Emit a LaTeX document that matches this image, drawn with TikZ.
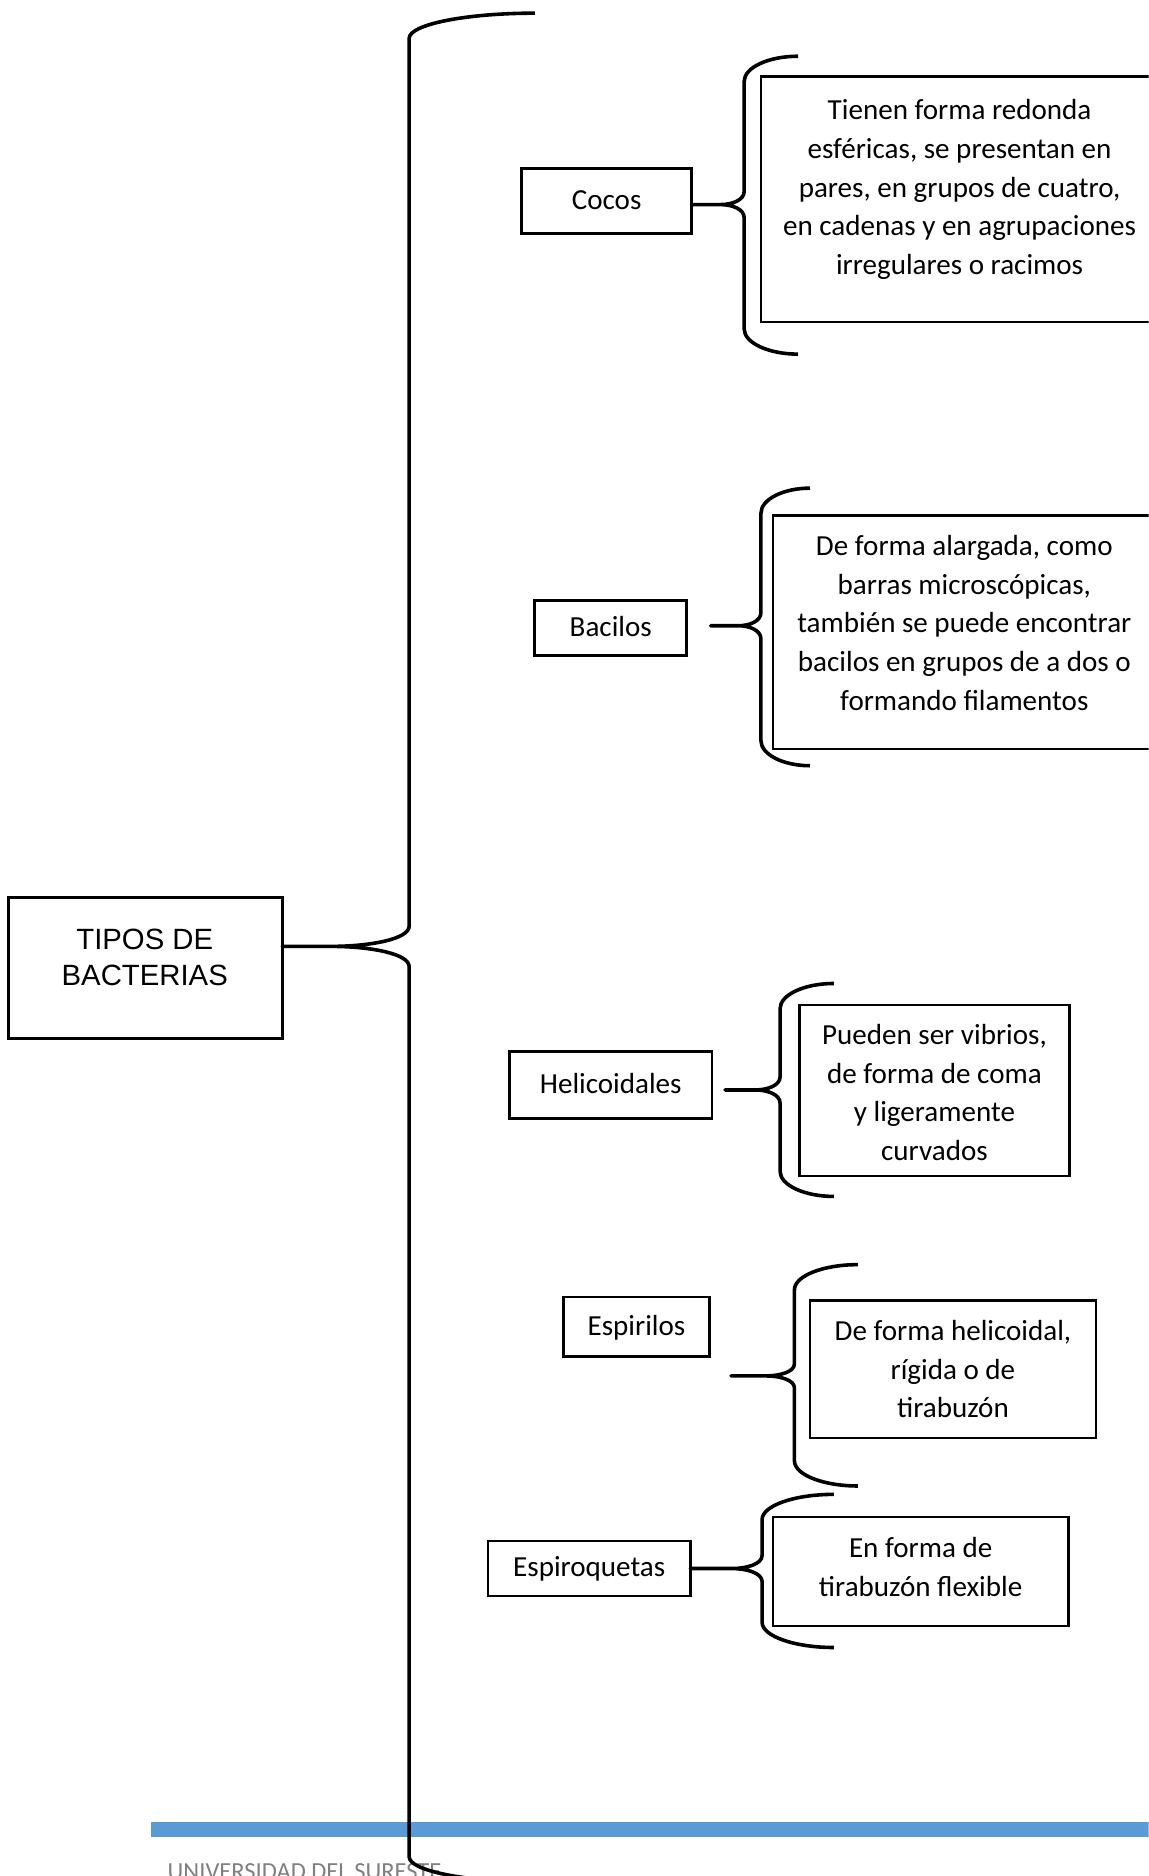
\documentclass[tikz,border=0pt]{standalone}
\usepackage{fontspec}
\setmainfont{Carlito}
\newfontfamily\arialf{Liberation Sans}
\definecolor{barblue}{RGB}{91,155,213}
\definecolor{footgray}{RGB}{128,128,128}
\tikzset{
  catbox/.style={draw, line width=2.2pt, inner sep=0pt, text height=19pt, text depth=5pt,
    font=\fontsize{24.3}{32.3}\selectfont},
  descbox/.style={draw, line width=2.2pt, inner sep=0pt},
  desctext/.style={align=center, inner sep=0pt, font=\fontsize{24.3}{32.3}\selectfont},
  bracestyle/.style={line width=3pt, line join=round},
}
% #1 name #2 xtip #3 ytip #4 xspine #5 ytop #6 ybot #7 xend #8 curve fraction #9 m
\newcommand\curly[9]{%
  \coordinate (#1-tip) at (#2,#3);
  \coordinate (#1-top) at (#7,#5);
  \coordinate (#1-bot) at (#7,#6);
  \draw[bracestyle] (#1-top)
    .. controls ({#7-0.55*(#7-#4)},#5) and (#4,{#5+0.45*21}) .. (#4,{#5+21})
    -- (#4,{#3-#9})
    .. controls (#4,{#3-0.35*#9}) and ({#4-0.5*#8*(#4-#2)},#3) .. ({#4-#8*(#4-#2)},#3)
    -- (#1-tip) -- ({#4-#8*(#4-#2)},#3)
    .. controls ({#4-0.5*#8*(#4-#2)},#3) and (#4,{#3+0.35*#9}) .. (#4,{#3+#9})
    -- (#4,{#6-21})
    .. controls (#4,{#6-0.45*21}) and ({#7-0.55*(#7-#4)},#6) .. (#1-bot);
}
\begin{document}
\begin{tikzpicture}[x=1pt,y=-1pt]
\clip (0,0) rectangle (960,1568);
\fill[white] (0,0) rectangle (960,1568);

% footer
\fill[barblue] (126,1522.5) rectangle (960,1535.5);
\node[anchor=base west, inner sep=0pt, text=footgray, font=\fontsize{20.5}{24}\selectfont] (footer) at (140,1571) {UNIVERSIDAD DEL SURESTE};

% main box
\node[descbox, minimum width=229pt, minimum height=118pt] (main) at (121.5,809) {};
\node[align=center, inner sep=0pt, font=\arialf\fontsize{24.5}{30}\selectfont] (maintext) at (121,800) {TIPOS DE\\BACTERIAS};

% main brace
\curly{mb}{236}{791}{342}{11}{1573}{447}{0.62}{17}

% categories
\node[catbox, minimum width=142pt, minimum height=54pt] (cocos) at (507,168) {Cocos};
\node[catbox, minimum width=127pt, minimum height=46pt] (bacilos) at (510.5,525) {Bacilos};
\node[catbox, minimum width=169pt, minimum height=56pt] (helic) at (510.5,907) {Helicoidales};
\node[catbox, minimum width=122pt, minimum height=50pt] (espir) at (532,1109) {Espirilos};
\node[catbox, minimum width=169pt, minimum height=46pt] (espiro) at (492.5,1311) {Espiroquetas};

% braces
\curly{bc}{578}{171}{622}{47}{296}{667}{0.45}{11}
\curly{bb}{594}{523}{636}{408}{640}{677}{0.45}{11}
\curly{bh}{606}{911}{652}{822}{1000}{697}{0.45}{11}
\curly{be}{611}{1150}{664}{1057}{1242}{717}{0.45}{10}
\curly{bq}{577}{1311}{637}{1249}{1377}{697}{0.42}{11}

% description boxes
\node[descbox, minimum width=332pt, minimum height=205pt] (dcocos) at (802,166.5) {};
\node[desctext] (tcocos) at (802,158.5) {Tienen forma redonda\\esféricas, se presentan en\\pares, en grupos de cuatro,\\en cadenas y en agrupaciones\\irregulares o racimos};

\node[descbox, minimum width=320pt, minimum height=195pt] (dbacilos) at (806,528.5) {};
\node[desctext] (tbacilos) at (806,520.5) {De forma alargada, como\\barras microscópicas,\\también se puede encontrar\\bacilos en grupos de a dos o\\formando filamentos};

\node[descbox, minimum width=226pt, minimum height=143pt] (dhelic) at (781,911.5) {};
\node[desctext] (thelic) at (781,913) {Pueden ser vibrios,\\de forma de coma\\y ligeramente\\curvados};

\node[descbox, minimum width=239pt, minimum height=115pt] (despir) at (796.5,1144.5) {};
\node[desctext] (tespir) at (796.5,1144.5) {De forma helicoidal,\\rígida o de\\tirabuzón};

\node[descbox, minimum width=247pt, minimum height=91pt] (despiro) at (769.5,1313.5) {};
\node[desctext] (tespiro) at (769.5,1309.5) {En forma de\\tirabuzón flexible};
\end{tikzpicture}
\end{document}
